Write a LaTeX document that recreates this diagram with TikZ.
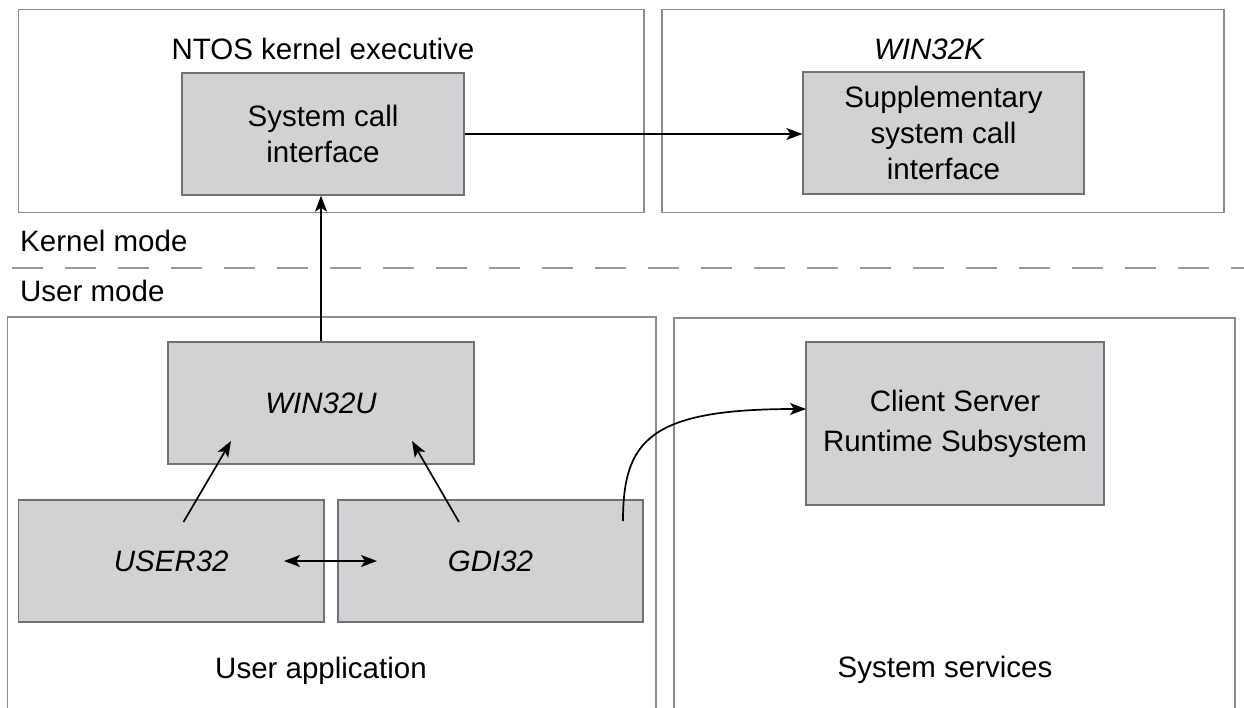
\documentclass[tikz,border=0pt]{standalone}
\usepackage{fontspec}
\setmainfont{Liberation Sans}
\usetikzlibrary{arrows.meta}
\definecolor{boxfill}{HTML}{D1D2D4}
\definecolor{blockedge}{HTML}{707174}
\definecolor{paneledge}{HTML}{8C8C8C}
\definecolor{dashgray}{HTML}{9A9A9A}
\begin{document}
\begin{tikzpicture}[x=1pt,y=-1pt,
  font=\fontsize{29.5}{36}\selectfont,
  panel/.style={draw=paneledge, line width=1.3pt, rectangle, inner sep=0pt},
  block/.style={draw=blockedge, fill=boxfill, line width=1.3pt, rectangle, inner sep=0pt, align=center},
  lbl/.style={inner sep=0pt},
  tip/.tip={Stealth[length=16pt,width=12pt,inset=4pt]},
  arr/.style={-tip, line width=1.7pt},
  dblarr/.style={tip-tip, line width=1.7pt},
  modeline/.style={draw=dashgray, line width=2pt, dash pattern=on 31pt off 22pt}
]
\useasboundingbox (0,0) rectangle (1244,708);
\fill[white] (0,0) rectangle (1244,708);

% panels
\node[panel, minimum width=625.5pt, minimum height=203pt] (ntos) at (331.25,111) {};
\node[panel, minimum width=562pt, minimum height=203pt] (win32k) at (943,111) {};
\node[panel, minimum width=648.4pt, minimum height=403pt] (uapp) at (331.8,518.5) {};
\node[panel, minimum width=561pt, minimum height=402pt] (sysserv) at (954.5,519) {};

% panel labels
\node[lbl, anchor=base] (ntoslabel) at (323,60) {NTOS kernel executive};
\node[lbl, anchor=base] (w32klabel) at (929,60) {\itshape WIN32K};
\node[lbl, anchor=base west] (kmode) at (20,252) {Kernel mode};
\node[lbl, anchor=base west] (umode) at (20,302) {User mode};
\node[lbl, anchor=base] (uapplabel) at (321,678) {User application};
\node[lbl, anchor=base] (sslabel) at (945,677) {System services};

% dashed mode separator
\coordinate (dashL) at (12,268);
\coordinate (dashR) at (1244,268);
\draw[modeline] (dashL) -- (dashR);

% blocks
\node[block, minimum width=282pt, minimum height=122pt] (sci) at (323,134) {System call\\interface};
\node[block, minimum width=281pt, minimum height=122pt] (supp) at (943.5,133) {Supplementary\\system call\\interface};
\node[block, minimum width=306pt, minimum height=122pt] (win32u) at (321,403) {\itshape WIN32U};
\node[block, minimum width=305.5pt, minimum height=122pt] (user32) at (171.25,561) {\itshape USER32};
\node[block, minimum width=305pt, minimum height=122pt] (gdi32) at (490.5,561) {\itshape GDI32};
\node[block, minimum width=298pt, minimum height=163pt, font=\fontsize{29.5}{40}\selectfont] (csrss) at (955,423.5) {Client Server\\Runtime Subsystem};

% connectors
\draw[arr] (sci.east) -- (sci.east -| supp.west);
\draw[arr] (win32u.north) -- (win32u.north |- sci.south);

\coordinate (u32s) at (183.5,522);
\coordinate (u32e) at (231,441);
\draw[arr] (u32s) -- (u32e);

\coordinate (g32s) at (459,522);
\coordinate (g32e) at (412,441);
\draw[arr] (g32s) -- (g32e);

\coordinate (dblL) at (284,561);
\coordinate (dblR) at (377,561);
\draw[dblarr] (dblL) -- (dblR);

\coordinate (cstart) at (623,521);
\coordinate (cend) at (806,409);
\draw[arr] (cstart) .. controls (623,440) and (650,409) .. (cend);
\end{tikzpicture}
\end{document}
